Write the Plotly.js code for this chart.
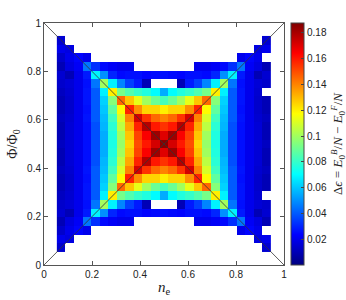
<!DOCTYPE html>
<html>
<head>
<meta charset="utf-8">
<script src="https://cdn.plot.ly/plotly-3.0.1.min.js"></script>
<style>html,body{margin:0;padding:0;background:#fff;}#chart{width:346px;height:300px;}</style>
</head>
<body>
<div id="chart"></div>
<script>
// n_e positions (columns k = 2..26 of N = 28)
const neValues = [2/28,3/28,4/28,5/28,6/28,7/28,8/28,9/28,10/28,11/28,12/28,13/28,14/28,15/28,16/28,17/28,18/28,19/28,20/28,21/28,22/28,23/28,24/28,25/28,26/28];
// flux positions (rows j = 2..26)
const fluxValues = [2/28,3/28,4/28,5/28,6/28,7/28,8/28,9/28,10/28,11/28,12/28,13/28,14/28,15/28,16/28,17/28,18/28,19/28,20/28,21/28,22/28,23/28,24/28,25/28,26/28];
const N_ = null;
// Delta epsilon per row (bottom row first), columns n_e = 2/28 .. 26/28
const deltaEps = [
/* j=2  */ [0.015,N_,N_,N_,N_,N_,N_,N_,N_,N_,N_,N_,N_,N_,N_,N_,N_,N_,N_,N_,N_,N_,N_,N_,0.015],
/* j=3  */ [0.02,0.018,N_,N_,N_,N_,N_,N_,N_,N_,N_,N_,N_,N_,N_,N_,N_,N_,N_,N_,N_,N_,N_,0.018,0.02],
/* j=4  */ [0.014,0.02,0.024,0.02,N_,N_,N_,N_,N_,N_,N_,N_,N_,N_,N_,N_,N_,N_,N_,N_,N_,0.02,0.024,0.02,N_],
/* j=5  */ [0.01,0.018,0.022,0.045,0.032,0.025,0.022,0.02,0.02,N_,N_,N_,N_,N_,N_,N_,0.02,0.02,0.022,0.025,0.032,0.045,0.022,0.018,0.01],
/* j=6  */ [0.015,0.01,0.02,0.028,0.068,0.05,0.03,0.025,0.026,0.026,0.024,0.025,0.026,0.025,0.024,0.026,0.026,0.025,0.03,0.05,0.068,0.028,0.02,0.01,0.015],
/* j=7  */ [0.014,0.016,0.02,0.026,0.045,0.1,0.068,0.048,0.035,0.028,0.01,N_,N_,N_,0.01,0.028,0.035,0.048,0.068,0.1,0.045,0.026,0.02,0.016,0.014],
/* j=8  */ [0.012,0.015,0.02,0.027,0.04,0.068,0.12,0.092,0.085,0.08,0.076,0.07,0.055,0.07,0.076,0.08,0.085,0.092,0.12,0.068,0.04,0.027,0.02,0.015,N_],
/* j=9  */ [0.01,0.014,0.02,0.027,0.04,0.062,0.095,0.145,0.128,0.113,0.1,0.09,0.083,0.09,0.1,0.113,0.128,0.145,0.095,0.062,0.04,0.027,0.02,0.014,0.01],
/* j=10 */ [0.01,0.014,0.02,0.026,0.04,0.06,0.088,0.118,0.158,0.138,0.125,0.125,0.12,0.125,0.125,0.138,0.158,0.118,0.088,0.06,0.04,0.026,0.02,0.014,0.01],
/* j=11 */ [0.012,0.015,0.02,0.027,0.04,0.058,0.082,0.11,0.14,0.172,0.155,0.145,0.14,0.145,0.155,0.172,0.14,0.11,0.082,0.058,0.04,0.027,0.02,0.015,0.012],
/* j=12 */ [0.01,0.016,0.02,0.026,0.038,0.057,0.078,0.105,0.133,0.158,0.178,0.16,0.155,0.16,0.178,0.158,0.133,0.105,0.078,0.057,0.038,0.026,0.02,0.016,0.01],
/* j=13 */ [0.01,0.016,0.02,0.026,0.038,0.055,0.076,0.1,0.128,0.152,0.165,0.182,0.17,0.182,0.165,0.152,0.128,0.1,0.076,0.055,0.038,0.026,0.02,0.016,0.01],
/* j=14 */ [0.012,0.016,0.02,0.026,0.038,0.055,0.075,0.098,0.125,0.15,0.16,0.172,0.186,0.172,0.16,0.15,0.125,0.098,0.075,0.055,0.038,0.026,0.02,0.016,0.012],
/* j=15 */ [0.01,0.016,0.02,0.026,0.038,0.055,0.076,0.1,0.128,0.152,0.165,0.182,0.17,0.182,0.165,0.152,0.128,0.1,0.076,0.055,0.038,0.026,0.02,0.016,0.01],
/* j=16 */ [0.01,0.016,0.02,0.026,0.038,0.057,0.078,0.105,0.133,0.158,0.178,0.16,0.155,0.16,0.178,0.158,0.133,0.105,0.078,0.057,0.038,0.026,0.02,0.016,0.01],
/* j=17 */ [0.012,0.015,0.02,0.027,0.04,0.058,0.082,0.11,0.14,0.172,0.155,0.145,0.14,0.145,0.155,0.172,0.14,0.11,0.082,0.058,0.04,0.027,0.02,0.015,0.012],
/* j=18 */ [0.01,0.014,0.02,0.026,0.04,0.06,0.088,0.118,0.158,0.138,0.125,0.125,0.12,0.125,0.125,0.138,0.158,0.118,0.088,0.06,0.04,0.026,0.02,0.014,0.01],
/* j=19 */ [0.01,0.014,0.02,0.027,0.04,0.062,0.095,0.145,0.128,0.113,0.1,0.09,0.083,0.09,0.1,0.113,0.128,0.145,0.095,0.062,0.04,0.027,0.02,0.014,0.01],
/* j=20 */ [0.012,0.015,0.02,0.027,0.04,0.068,0.12,0.092,0.085,0.08,0.076,0.07,0.055,0.07,0.076,0.08,0.085,0.092,0.12,0.068,0.04,0.027,0.02,0.015,N_],
/* j=21 */ [0.014,0.016,0.02,0.026,0.045,0.1,0.068,0.048,0.035,0.028,0.01,N_,N_,N_,0.01,0.028,0.035,0.048,0.068,0.1,0.045,0.026,0.02,0.016,0.014],
/* j=22 */ [0.015,0.01,0.02,0.028,0.068,0.05,0.03,0.025,0.026,0.026,0.024,0.025,0.026,0.025,0.024,0.026,0.026,0.025,0.03,0.05,0.068,0.028,0.02,0.01,0.015],
/* j=23 */ [0.01,0.018,0.022,0.045,0.032,0.025,0.022,0.02,0.02,N_,N_,N_,N_,N_,N_,N_,0.02,0.02,0.022,0.025,0.032,0.045,0.022,0.018,0.01],
/* j=24 */ [0.014,0.02,0.024,0.02,N_,N_,N_,N_,N_,N_,N_,N_,N_,N_,N_,N_,N_,N_,N_,N_,N_,0.02,0.024,0.02,N_],
/* j=25 */ [0.02,0.018,N_,N_,N_,N_,N_,N_,N_,N_,N_,N_,N_,N_,N_,N_,N_,N_,N_,N_,N_,N_,N_,0.018,0.02],
/* j=26 */ [0.015,N_,N_,N_,N_,N_,N_,N_,N_,N_,N_,N_,N_,N_,N_,N_,N_,N_,N_,N_,N_,N_,N_,N_,0.015]
];
const axisTicks = [0, 0.2, 0.4, 0.6, 0.8, 1];
const axisTickText = ['0', '0.2', '0.4', '0.6', '0.8', '1'];
const cbTicks = [0.02, 0.04, 0.06, 0.08, 0.1, 0.12, 0.14, 0.16, 0.18];
const cbTickText = ['0.02', '0.04', '0.06', '0.08', '0.1', '0.12', '0.14', '0.16', '0.18'];
const diag1X = [0, 1], diag1Y = [0, 1];
const diag2X = [0, 1], diag2Y = [1, 0];

const jet = [
  [0, 'rgb(0,0,128)'], [0.125, 'rgb(0,0,255)'], [0.375, 'rgb(0,255,255)'],
  [0.625, 'rgb(255,255,0)'], [0.875, 'rgb(255,0,0)'], [1, 'rgb(128,0,0)']
];

const tickFont = {family: 'Liberation Sans, Arial, sans-serif', size: 10, color: '#222'};
const traces = [
  {
    type: 'heatmap', x: neValues, y: fluxValues, z: deltaEps,
    colorscale: jet, zmin: 0, zmax: 0.1876, zsmooth: false, hoverongaps: false,
    colorbar: {
      x: 1.029, xanchor: 'left', thickness: 13, len: 1, lenmode: 'fraction', y: 0.5, yanchor: 'middle',
      outlinecolor: '#444', outlinewidth: 1, ticks: 'inside', ticklen: 3, tickcolor: '#444',
      tickvals: cbTicks, ticktext: cbTickText, tickfont: tickFont, xpad: 0, ypad: 0,
      title: {text: 'Δ<i>ϵ</i> = <i>E</i><sub>0</sub><sup><i>B</i></sup>/<i>N</i> − <i>E</i><sub>0</sub><sup><i>F</i></sup>/<i>N</i>',
              side: 'right', font: {family: 'Liberation Serif, serif', size: 13, color: '#222'}}
    }
  },
  {type: 'scatter', mode: 'lines', x: diag1X, y: diag1Y, line: {color: '#333', width: 0.8}, hoverinfo: 'skip', showlegend: false},
  {type: 'scatter', mode: 'lines', x: diag2X, y: diag2Y, line: {color: '#333', width: 0.8}, hoverinfo: 'skip', showlegend: false}
];
const axisCommon = {
  range: [0, 1], tickvals: axisTicks, ticktext: axisTickText, ticks: 'inside', ticklen: 4,
  tickcolor: '#555', showline: true, linecolor: '#555', linewidth: 1, mirror: 'ticks',
  showgrid: false, zeroline: false, tickfont: tickFont, automargin: false
};
const layout = {
  width: 346, height: 300,
  margin: {l: 44, r: 62, t: 23, b: 35, autoexpand: false},
  paper_bgcolor: '#fff', plot_bgcolor: '#fff',
  showlegend: false,
  xaxis: Object.assign({}, axisCommon, {title: {text: '<i>n</i><sub>e</sub>', font: {family: 'Liberation Serif, serif', size: 15, color: '#222'}, standoff: 2}}),
  yaxis: Object.assign({}, axisCommon, {title: {text: 'Φ/Φ<sub>0</sub>', font: {family: 'Liberation Serif, serif', size: 14, color: '#222'}, standoff: 6}})
};
Plotly.newPlot('chart', traces, layout, {staticPlot: true, displayModeBar: false});
</script>
</body>
</html>
